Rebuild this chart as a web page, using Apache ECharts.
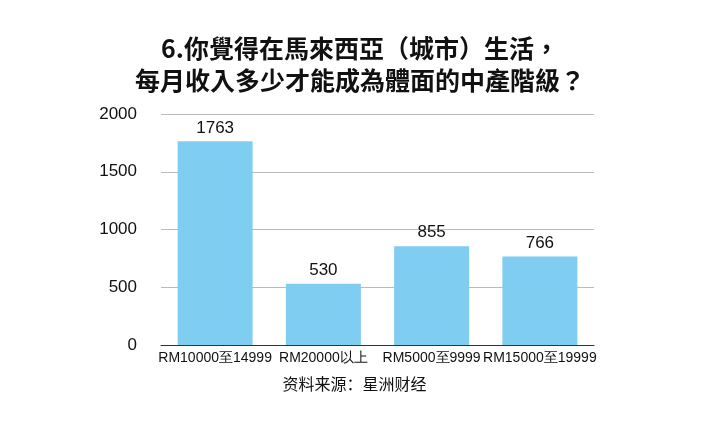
<!DOCTYPE html>
<html><head><meta charset="utf-8">
<script src="https://cdn.jsdelivr.net/npm/echarts@6/dist/echarts.min.js"></script>
<style>html,body{margin:0;padding:0;background:#fff}#c{width:709px;height:425px}</style>
</head><body><div id="c"></div>
<script>
const categories = ['RM10000至14999','RM20000以上','RM5000至9999','RM15000至19999'];
const values = [1763, 530, 855, 766];
const chart = echarts.init(document.getElementById('c'));
chart.setOption({
  animation:false,
  title:{text:'6.你覺得在馬來西亞（城市）生活，\n每月收入多少才能成為體面的中產階級？',left:355,top:27,textAlign:'center',
    textStyle:{fontSize:25,fontWeight:'bold',color:'#111',lineHeight:32,fontFamily:'Noto Sans CJK TC'}},
  graphic:[{type:'text',left:'center',top:376,style:{text:'资料来源：星洲财经',fontSize:16,fill:'#111',fontFamily:'Noto Sans CJK SC'}}],
  grid:{left:161,right:115,top:114,bottom:80},
  xAxis:{type:'category',data:categories,axisTick:{show:false},axisLine:{lineStyle:{color:'#333'}},
    axisLabel:{color:'#111',fontSize:14,margin:6,interval:0,fontFamily:'Liberation Sans'}},
  yAxis:{type:'value',min:0,max:2000,interval:500,axisLine:{show:false},axisTick:{show:false},
    axisLabel:{color:'#111',fontSize:17,margin:24,fontFamily:'Liberation Sans',formatter:v=>String(v)},
    splitLine:{lineStyle:{color:'#bbb'}}},
  series:[{type:'bar',data:values,barWidth:75,itemStyle:{color:'#7fcdf1'},
    label:{show:true,position:'top',color:'#111',fontSize:17,fontFamily:'Liberation Sans'}}]
});
</script></body></html>
